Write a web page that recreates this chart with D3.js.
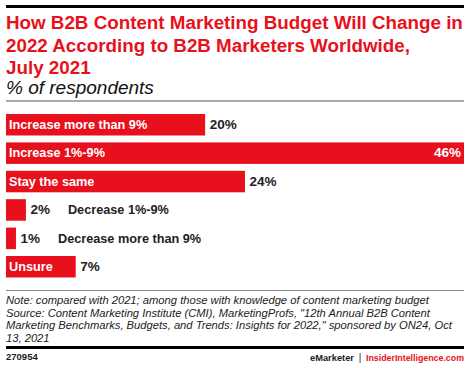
<!DOCTYPE html>
<html>
<head>
<meta charset="utf-8">
<script src="https://cdn.jsdelivr.net/npm/d3@7"></script>
<style>
  html, body { margin: 0; padding: 0; background: #fff; }
  svg { display: block; }
</style>
</head>
<body>
<script>
const categories = ["Increase more than 9%", "Increase 1%-9%", "Stay the same", "Decrease 1%-9%", "Decrease more than 9%", "Unsure"];
const values = [20, 46, 24, 2, 1, 7];
const titleLines = ["How B2B Content Marketing Budget Will Change in", "2022 According to B2B Marketers Worldwide,", "July 2021"];
const subtitle = "% of respondents";
const noteLines = [
  "Note: compared with 2021; among those with knowledge of content marketing budget",
  "Source: Content Marketing Institute (CMI), MarketingProfs, \"12th Annual B2B Content",
  "Marketing Benchmarks, Budgets, and Trends: Insights for 2022,\" sponsored by ON24, Oct",
  "13, 2021"
];
const chartId = "270954";

const W = 470, H = 368;
const RED = "#e8101c";
const FONT = "'Liberation Sans', Arial, sans-serif";

const svg = d3.select("body").append("svg").attr("width", W).attr("height", H)
  .style("font-family", FONT);

// top rule
svg.append("rect").attr("x", 6).attr("y", 5).attr("width", 458).attr("height", 3).attr("fill", "#000");

// title
const titleBase = [29, 51.5, 74];
svg.selectAll("text.title").data(titleLines).join("text")
  .attr("class", "title")
  .attr("x", 6).attr("y", (d, i) => titleBase[i])
  .attr("fill", RED).attr("font-weight", "bold").attr("font-size", 18.8)
  .text(d => d);

svg.append("text").attr("x", 6).attr("y", 94)
  .attr("font-style", "italic").attr("font-size", 19).attr("fill", "#111")
  .text(subtitle);

svg.append("rect").attr("x", 6).attr("y", 100.5).attr("width", 458).attr("height", 1).attr("fill", "#555");

// bars
const x = d3.scaleLinear().domain([0, d3.max(values)]).range([6, 464]);
const y = d3.scaleBand().domain(categories).range([114, 277.5]).paddingInner(0.243).paddingOuter(0);
const data = categories.map((c, i) => ({ c, v: values[i] }));

const g = svg.append("g");
g.selectAll("rect.bar").data(data).join("rect")
  .attr("class", "bar")
  .attr("x", x(0)).attr("y", d => y(d.c))
  .attr("width", d => x(d.v) - x(0)).attr("height", y.bandwidth())
  .attr("fill", RED);

const fs = 12.7;
data.forEach(d => {
  const bw = x(d.v) - x(0);
  const cy = y(d.c) + y.bandwidth() / 2 + 4.3;
  const cat = g.append("text").attr("font-weight", "bold").attr("font-size", fs).text(d.c + "%");
  const cw = cat.node().getComputedTextLength();
  cat.remove();
  const valText = d.v + "%";
  if (cw + 10 < bw) {
    g.append("text").attr("x", x(0) + 3).attr("y", cy)
      .attr("fill", "#fff").attr("font-weight", "bold").attr("font-size", fs).text(d.c);
    if (x(d.v) + 40 > 464) {
      g.append("text").attr("x", x(d.v) - 3).attr("y", cy).attr("text-anchor", "end")
        .attr("fill", "#fff").attr("font-weight", "bold").attr("font-size", 13.5).text(valText);
    } else {
      g.append("text").attr("x", x(d.v) + 4.5).attr("y", cy)
        .attr("fill", "#222").attr("font-weight", "bold").attr("font-size", 13.5).text(valText);
    }
  } else {
    const vt = g.append("text").attr("x", x(d.v) + 4.5).attr("y", cy)
      .attr("fill", "#222").attr("font-weight", "bold").attr("font-size", 13.5).text(valText);
    const vw = vt.node().getComputedTextLength();
    g.append("text").attr("x", x(d.v) + 4.5 + vw + 18).attr("y", cy)
      .attr("fill", "#222").attr("font-weight", "bold").attr("font-size", fs).text(d.c);
  }
});

// footer
svg.append("rect").attr("x", 6).attr("y", 290).attr("width", 458).attr("height", 1).attr("fill", "#888");
const noteBase = [304, 316.5, 329, 341.5];
svg.selectAll("text.note").data(noteLines).join("text")
  .attr("class", "note")
  .attr("x", 6).attr("y", (d, i) => noteBase[i])
  .attr("font-style", "italic").attr("font-size", 11.2).attr("fill", "#222")
  .text(d => d);

svg.append("rect").attr("x", 6).attr("y", 346).attr("width", 458).attr("height", 3).attr("fill", "#000");
svg.append("text").attr("x", 6).attr("y", 360).attr("font-weight", "bold").attr("font-size", 9.5).attr("fill", "#222").text(chartId);

svg.append("text").attr("x", 310).attr("y", 360.5)
  .attr("font-weight", "bold").attr("font-size", 9.3).attr("fill", "#222")
  .attr("textLength", 44).attr("lengthAdjust", "spacingAndGlyphs").text("eMarketer");
svg.append("text").attr("x", 360).attr("y", 360.5).attr("text-anchor", "middle")
  .attr("font-size", 10).attr("fill", "#222").text("|");
svg.append("text").attr("x", 366).attr("y", 360.5)
  .attr("font-weight", "bold").attr("font-size", 9.3).attr("fill", RED)
  .attr("textLength", 98).attr("lengthAdjust", "spacingAndGlyphs").text("InsiderIntelligence.com");
</script>
</body>
</html>
